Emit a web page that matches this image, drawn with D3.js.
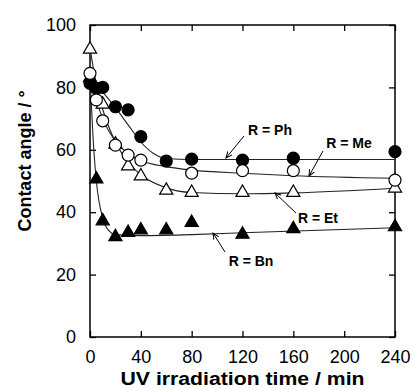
<!DOCTYPE html>
<html>
<head>
<meta charset="utf-8">
<script src="https://cdn.jsdelivr.net/npm/d3@7"></script>
<style>
  body { margin: 0; background: #fff; }
  svg { font-family: "Liberation Sans", Arial, sans-serif; }
</style>
</head>
<body>
<svg id="chart" width="413" height="390"></svg>
<script>
// measured points (min, degree)
const ph = [[0, 81.3], [5, 79.7], [10, 80.0], [20, 73.8], [30, 72.8], [40, 64.2], [60, 56.4], [80, 57.0], [120, 56.7], [160, 57.3], [240, 59.4]];
const me = [[0, 84.5], [5, 76.0], [10, 69.3], [20, 61.5], [30, 58.3], [40, 56.7], [80, 52.5], [120, 53.3], [160, 53.3], [240, 50.3]];
const et = [[0, 92.5], [10, 74.9], [20, 62.1], [30, 55.1], [40, 51.9], [60, 47.3], [80, 46.6], [120, 46.6], [160, 46.6], [240, 48.0]];
const bn = [[0, 83.4], [5, 50.9], [10, 37.5], [20, 32.4], [30, 33.8], [40, 34.6], [60, 34.6], [80, 37.0], [120, 33.2], [160, 35.0], [240, 35.6]];

// fitted curves
const phFit = [[0, 82.5], [10, 78.5], [20, 73.5], [30, 68], [40, 62.5], [50, 58.8], [60, 57.2], [80, 56.9], [120, 56.9], [240, 56.9]];
const meFit = [[0, 84.5], [5, 76], [10, 70], [20, 62.8], [30, 58.8], [40, 56.6], [60, 54.6], [80, 53.5], [120, 52.5], [160, 51.7], [240, 50.9]];
const etFit = [[0, 92.5], [5, 81], [10, 73], [20, 62.5], [30, 56], [40, 52], [60, 47.8], [80, 46.3], [120, 45.9], [160, 46.2], [240, 47.7]];
const bnFit = [[0, 84], [3, 60], [5, 50], [10, 38], [15, 34], [20, 32.8], [40, 32.5], [80, 32.8], [120, 33.4], [240, 35.0]];

const xTicks = [0, 40, 80, 120, 160, 200, 240];
const yTicks = [0, 20, 40, 60, 80, 100];

const labels = [
    { text: 'R = Ph', at: [270, 130], from: [244, 136], to: [226, 158] },
    { text: 'R = Me', at: [349, 143], from: [323, 151], to: [309, 176] },
    { text: 'R = Et', at: [318, 218], from: [296, 213], to: [275, 193] },
    { text: 'R = Bn', at: [251, 261], from: [225, 252], to: [213, 233] },
];

const svg = d3.select('#chart');
const margin = { top: 25, left: 90, right: 18, bottom: 53 };
const width = 413 - margin.left - margin.right;
const height = 390 - margin.top - margin.bottom;

const x = d3.scaleLinear().domain([0, 240]).range([0, width]);
const y = d3.scaleLinear().domain([0, 100]).range([height, 0]);

const view = svg.append('g').attr('transform', `translate(${margin.left}, ${margin.top})`);

// axes, ticks pointing inward
const styleAxis = g => {
    g.select('.domain').remove();
    g.selectAll('.tick line').attr('stroke', '#000').attr('stroke-width', 1.3);
    g.selectAll('.tick text').attr('fill', '#000').style('font-size', '18px');
};
view.append('g').attr('transform', `translate(0, ${height})`)
    .call(d3.axisBottom(x).tickValues(xTicks).tickSizeInner(-6).tickSizeOuter(0).tickPadding(10))
    .call(styleAxis)
    .selectAll('.tick text').attr('dy', '0.9em');
view.append('g')
    .call(d3.axisTop(x).tickValues(xTicks).tickSizeInner(-6).tickSizeOuter(0).tickFormat(''))
    .call(styleAxis);
view.append('g')
    .call(d3.axisLeft(y).tickValues(yTicks).tickSizeInner(-6).tickSizeOuter(0).tickPadding(14))
    .call(styleAxis);
view.append('g').attr('transform', `translate(${width}, 0)`)
    .call(d3.axisRight(y).tickValues(yTicks).tickSizeInner(-6).tickSizeOuter(0).tickFormat(''))
    .call(styleAxis);

view.append('rect').attr('width', width).attr('height', height)
    .attr('fill', 'none').attr('stroke', '#000').attr('stroke-width', 1.5);

// fit lines
const line = d3.line().x(d => x(d[0])).y(d => y(d[1])).curve(d3.curveMonotoneX);
[phFit, meFit, etFit, bnFit].forEach(f => {
    view.append('path').datum(f).attr('d', line)
        .attr('fill', 'none').attr('stroke', '#222').attr('stroke-width', 1.1);
});

// markers
const tri = d3.symbol().type(d3.symbolTriangle).size(75);
const drawCircles = (data, fill) => view.append('g').selectAll('circle').data(data).enter().append('circle')
    .attr('cx', d => x(d[0])).attr('cy', d => y(d[1])).attr('r', 6)
    .attr('fill', fill).attr('stroke', '#000').attr('stroke-width', 1.2);
const drawTriangles = (data, fill) => view.append('g').selectAll('path').data(data).enter().append('path')
    .attr('d', tri).attr('transform', d => `translate(${x(d[0])}, ${y(d[1]) + 1})`)
    .attr('fill', fill).attr('stroke', '#000').attr('stroke-width', 1.2);

drawTriangles(bn, '#000');
drawCircles(ph, '#000');
drawTriangles(et, '#fff');
drawCircles(me, '#fff');

// annotations
svg.append('defs').append('marker')
    .attr('id', 'head').attr('viewBox', '0 0 10 10').attr('refX', 9).attr('refY', 5)
    .attr('markerWidth', 7).attr('markerHeight', 7).attr('orient', 'auto')
    .append('path').attr('d', 'M0,1 L9,5 L0,9').attr('fill', 'none').attr('stroke', '#000').attr('stroke-width', 1.5);

labels.forEach(l => {
    svg.append('line')
        .attr('x1', l.from[0]).attr('y1', l.from[1]).attr('x2', l.to[0]).attr('y2', l.to[1])
        .attr('stroke', '#000').attr('stroke-width', 1).attr('marker-end', 'url(#head)');
    svg.append('text').attr('x', l.at[0]).attr('y', l.at[1])
        .attr('text-anchor', 'middle').attr('dominant-baseline', 'central')
        .style('font-size', '14px').style('font-weight', 'bold')
        .text(l.text);
});

// axis titles
svg.append('text')
    .attr('transform', `translate(${margin.left + width / 2}, 385)`)
    .attr('text-anchor', 'middle')
    .attr('textLength', 244).attr('lengthAdjust', 'spacingAndGlyphs')
    .style('font-size', '18px').style('font-weight', 'bold')
    .text('UV irradiation time / min');
svg.append('text')
    .attr('transform', 'translate(31, 161) rotate(-90)')
    .attr('text-anchor', 'middle')
    .style('font-size', '18px').style('font-weight', 'bold')
    .text('Contact angle / °');
</script>
</body>
</html>
